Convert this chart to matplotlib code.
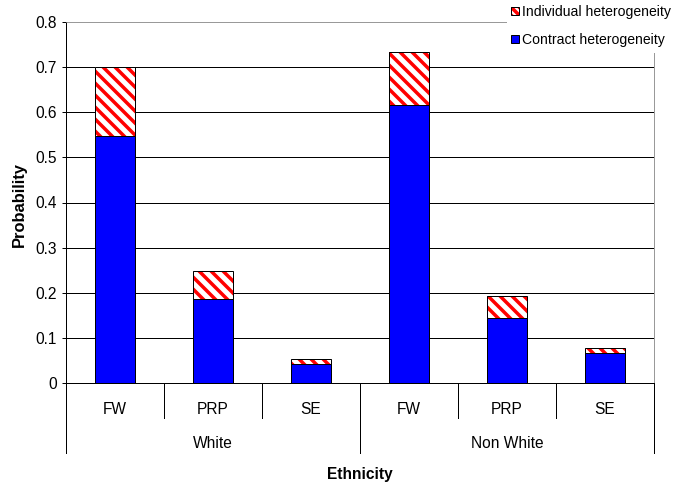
import matplotlib
matplotlib.use("Agg")
import matplotlib.pyplot as plt
from matplotlib.patches import Patch, Rectangle
from matplotlib.ticker import FuncFormatter

# stacked probabilities by contract type and ethnicity
groups = ["White", "Non White"]
contracts = ["FW", "PRP", "SE"]
contract_het = [0.547, 0.186, 0.042, 0.616, 0.143, 0.067]
total_prob = [0.700, 0.249, 0.054, 0.733, 0.192, 0.078]
individual_het = [t - c for t, c in zip(total_prob, contract_het)]
yticks = [0, 0.1, 0.2, 0.3, 0.4, 0.5, 0.6, 0.7, 0.8]

plt.rcParams["font.family"] = ["Liberation Sans", "DejaVu Sans"]
plt.rcParams["hatch.linewidth"] = 3.5

DPI = 72
fig = plt.figure(figsize=(677 / DPI, 486 / DPI), dpi=DPI)
ax = fig.add_axes([66 / 677, 1 - 383 / 486, 588 / 677, 361 / 486])

x = list(range(len(contract_het)))
w = 0.41
hatch = "\\\\"

# grid lines behind the bars
for v in yticks[1:-1]:
    ax.axhline(v, color="black", lw=1, zorder=1)

ax.bar(x, contract_het, w, color="#0000ff", edgecolor="black", lw=1, zorder=3)
ax.bar(x, individual_het, w, bottom=contract_het, color="white",
       edgecolor="#ff0000", hatch=hatch, lw=0, zorder=3)
ax.bar(x, individual_het, w, bottom=contract_het, fill=False,
       edgecolor="black", lw=1, zorder=4)

ax.set_xlim(-0.5, 5.5)
ax.set_ylim(0, 0.8)
ax.set_yticks(yticks)
ax.yaxis.set_major_formatter(FuncFormatter(lambda v, p: "0" if v == 0 else f"{v:.1f}"))
ax.tick_params(axis="y", direction="out", length=4, width=1, pad=5,
               labelsize=15.5, colors="black")
ax.set_xticks([])

for s in ["top", "right"]:
    ax.spines[s].set_color("#808080")
for s in ["left", "bottom"]:
    ax.spines[s].set_color("black")
    ax.spines[s].set_linewidth(1)

# two-level category axis below the plot
tr = ax.get_xaxis_transform()
short = -35 / 361
long_ = -70 / 361
for b in [0.5, 1.5, 3.5, 4.5]:
    ax.plot([b, b], [0, short], transform=tr, color="black", lw=1, clip_on=False)
for b in [-0.5, 2.5, 5.5]:
    ax.plot([b, b], [0, long_], transform=tr, color="black", lw=1, clip_on=False)
for i, lab in enumerate(contracts * len(groups)):
    ax.text(i, -26 / 361, lab, transform=tr, ha="center", va="center", fontsize=15.5)
for g, lab in enumerate(groups):
    ax.text(1 + 3 * g, -60 / 361, lab, transform=tr, ha="center", va="center", fontsize=15.5)

fig.text(360 / 677, 1 - 474 / 486, "Ethnicity", ha="center", va="center",
         fontsize=15.5, fontweight="bold")
fig.text(19 / 677, 1 - 205 / 486, "Probability", ha="center", va="center",
         rotation=90, fontsize=16.5, fontweight="bold")

# white block behind the legend in the top right corner
fig.patches.append(Rectangle((507 / 677, 1 - 53 / 486), 170 / 677, 53 / 486,
                             transform=fig.transFigure, facecolor="white",
                             edgecolor="none", zorder=5))

h_ind = (Patch(facecolor="white", edgecolor="#ff0000", hatch="\\\\\\", lw=0),
         Patch(fill=False, edgecolor="black", lw=1))
h_con = Patch(facecolor="#0000ff", edgecolor="black", lw=1)
leg = fig.legend([h_ind, h_con], ["Individual heterogeneity", "Contract heterogeneity"],
                 loc="upper right", bbox_to_anchor=(674 / 677, 1 - 2 / 486), frameon=False,
                 fontsize=14, handlelength=0.55, handleheight=0.55,
                 handletextpad=0.25, labelspacing=1.0, borderpad=0.2,
                 borderaxespad=0.0)
leg.set_zorder(6)

fig.savefig("out.png", dpi=DPI)
